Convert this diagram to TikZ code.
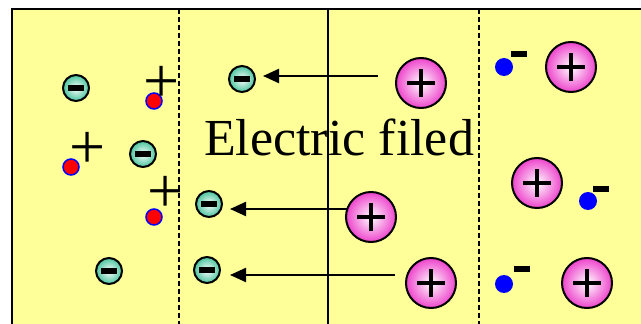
\documentclass[tikz,border=0pt]{standalone}
\usepackage{fontspec}
\setmainfont{Liberation Serif}
\usetikzlibrary{positioning,arrows.meta}
\definecolor{bgyellow}{HTML}{FFFF99}
\definecolor{ionteal}{HTML}{48C49C}
\definecolor{ionpink}{HTML}{EE44CC}
\tikzset{neg ion/.style={circle,draw,line width=2pt,minimum
size=26pt,inner sep=0pt,inner color=white,outer color=ionteal,
path picture={\fill ([shift={(-8pt,-2.8pt)}]path picture bounding box.center)
rectangle ++(16pt,5.6pt);}},
pos ion/.style={circle,draw,line width=2pt,minimum
size=50pt,inner sep=0pt,inner color=white,outer color=ionpink,
path picture={\draw[line width=3.2pt]
([xshift=-14pt]path picture bounding box.center) -- ++(28pt,0pt)
([yshift=-14pt]path picture bounding box.center) -- ++(0pt,28pt);}},
hole/.style={circle,fill=red,draw=blue,line width=1.5pt,minimum
size=16pt,inner sep=0pt},
electron/.style={circle,fill=blue,minimum size=18pt,inner sep=0pt},
minus bar/.style={fill=black,minimum width=16pt,minimum height=6pt,inner sep=0pt},
sign/.style={inner sep=0pt,font=\fontsize{64}{64}\selectfont},
field/.style={line width=2.2pt,-{Triangle[length=16pt,width=14pt]}}}

\begin{document}
\begin{tikzpicture}[x=1pt,y=-1pt]
    \useasboundingbox (0,0) rectangle (641,324);
    \clip (0,0) rectangle (641,324);
    \fill[bgyellow] (12,9) rectangle (660,340);
    \draw[line width=2.4pt] (12,340) -- (12,9) -- (660,9);
    \draw[line width=1.8pt,dash pattern=on 5pt off 3pt] (179,9) -- (179,340);
    \draw[line width=1.8pt,dash pattern=on 5pt off 3pt] (479,9) -- (479,340);
    \draw[line width=2.2pt] (328,9) -- (328,340);

    \node (txt) [anchor=base,font=\fontsize{52}{60}\selectfont]
        at (339,155) {Electric filed};

    % p side
    \node[neg ion] (n1) at (76,88) {};
    \node[neg ion] (n2) at (143,154) {};
    \node[neg ion] (n3) at (109,271) {};
    \node[neg ion] (n4) at (242,79) {};
    \node[neg ion] (n5) at (209,204) {};
    \node[neg ion] (n6) at (207,270) {};

    \node[hole] (h1) at (154,101) {};
    \node[hole] (h2) at (71,167) {};
    \node[hole] (h3) at (154,217) {};
    \node[sign] (hl1) at (162,84) {+};
    \node[sign] (hl2) at (88,150) {+};
    \node[sign] (hl3) at (166,194) {+};

    % n side
    \node[pos ion] (p1) at (421,83) {};
    \node[pos ion] (p2) at (371,217) {};
    \node[pos ion] (p3) at (431,283) {};
    \node[pos ion] (p4) at (571,67) {};
    \node[pos ion] (p5) at (537,183) {};
    \node[pos ion] (p6) at (587,283) {};

    \node[electron] (e1) at (504,67) {};
    \node[electron] (e2) at (588,201) {};
    \node[electron] (e3) at (504,284) {};
    \node[minus bar] (el1) at (519,54) {};
    \node[minus bar] (el2) at (601,189) {};
    \node[minus bar] (el3) at (522,269) {};

    \coordinate (a1) at (378,76);
    \coordinate (b1) at (263,76);
    \coordinate (a2) at (347,209);
    \coordinate (b2) at (230,209);
    \coordinate (a3) at (395,275);
    \coordinate (b3) at (230,275);
    \draw[field] (a1) -- (b1);
    \draw[field] (a2) -- (b2);
    \draw[field] (a3) -- (b3);
\end{tikzpicture}
\end{document}
